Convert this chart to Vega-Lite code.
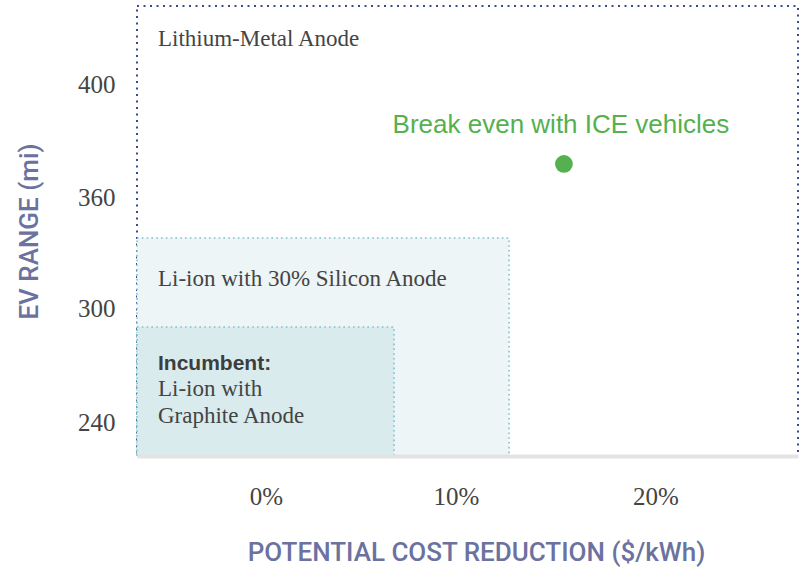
{
  "$schema": "https://vega.github.io/schema/vega-lite/v6.json",
  "width": 661,
  "height": 450,
  "autosize": {"type": "none"},
  "padding": {"left": 137, "top": 6, "right": 6, "bottom": 112},
  "background": "white",
  "config": {"view": {"stroke": null}},
  "datasets": {
    "boxes": [
      {"tier": "lithium", "x0": -6.79, "x1": 27.14, "y0": 222.1, "y1": 427.6},
      {"tier": "silicon", "x0": -6.79, "x1": 12.66, "y0": 222.1, "y1": 337.8},
      {"tier": "graphite", "x0": -6.79, "x1": 6.74, "y0": 222.1, "y1": 290}
    ],
    "serif_labels": [
      {"label": "Lithium-Metal Anode", "x": -6.79, "y": 413.4},
      {"label": "Li-ion with 30% Silicon Anode", "x": -6.79, "y": 312.05},
      {"label": "Li-ion with", "x": -6.79, "y": 253.7},
      {"label": "Graphite Anode", "x": -6.79, "y": 239.3}
    ],
    "bold_labels": [
      {"label": "Incumbent:", "x": -6.79, "y": 267.4}
    ],
    "breakeven": [
      {"label": "Break even with ICE vehicles", "cost_reduction": 15.41, "range": 371.7, "label_x": 15.26, "label_y": 382.5}
    ]
  },
  "encoding": {
    "x": {
      "type": "quantitative",
      "scale": {"domain": [-6.79, 0, 10, 20, 27.14], "range": [0, 129, 319, 518.5, 661], "nice": false, "zero": false},
      "axis": {
        "title": "POTENTIAL COST REDUCTION ($/kWh)",
        "values": [0, 10, 20],
        "labelExpr": "datum.value + '%'",
        "labelFont": "Liberation Serif",
        "labelFontSize": 25,
        "labelColor": "#444444",
        "labelBaseline": "middle",
        "labelPadding": 40,
        "ticks": false,
        "tickSize": 0,
        "grid": false,
        "domain": true,
        "domainColor": "#e3e3e3",
        "domainWidth": 4,
        "zindex": 1,
        "titleFont": "Roboto",
        "titleFontSize": 26,
        "titleFontWeight": 500,
        "titleColor": "#6b72a0",
        "titleBaseline": "middle",
        "titleY": 96,
        "titleX": 339
      }
    },
    "y": {
      "type": "quantitative",
      "scale": {"domain": [222.1, 240, 300, 360, 400, 427.6], "range": [450, 416, 302, 191, 78, 0], "nice": false, "zero": false},
      "axis": {
        "title": "EV RANGE (mi)",
        "values": [240, 300, 360, 400],
        "labelFont": "Liberation Serif",
        "labelFontSize": 25,
        "labelColor": "#444444",
        "labelPadding": 22,
        "ticks": false,
        "tickSize": 0,
        "grid": false,
        "domain": false,
        "titleFont": "Roboto",
        "titleFontSize": 26,
        "titleFontWeight": 500,
        "titleColor": "#6b72a0",
        "titleAngle": -90,
        "titleAlign": "center",
        "titleBaseline": "middle",
        "titleX": -108,
        "titleY": 225
      }
    }
  },
  "layer": [
    {
      "data": {"name": "boxes"},
      "transform": [{"filter": "datum.tier === 'lithium'"}],
      "mark": {"type": "rect", "fill": "transparent", "stroke": "#3b4a8f", "strokeWidth": 2, "strokeDash": [2, 4.5]},
      "encoding": {
        "x": {"field": "x0", "type": "quantitative"},
        "x2": {"field": "x1"},
        "y": {"field": "y0", "type": "quantitative"},
        "y2": {"field": "y1"}
      }
    },
    {
      "data": {"name": "boxes"},
      "transform": [{"filter": "datum.tier === 'silicon'"}],
      "mark": {"type": "rect", "fill": "#edf5f6", "stroke": "#7dc2cc", "strokeWidth": 1.6, "strokeDash": [1.6, 3.2]},
      "encoding": {
        "x": {"field": "x0", "type": "quantitative"},
        "x2": {"field": "x1"},
        "y": {"field": "y0", "type": "quantitative"},
        "y2": {"field": "y1"}
      }
    },
    {
      "data": {"name": "boxes"},
      "transform": [{"filter": "datum.tier === 'graphite'"}],
      "mark": {"type": "rect", "fill": "#d9ebed", "stroke": "#7dc2cc", "strokeWidth": 1.6, "strokeDash": [1.6, 3.2]},
      "encoding": {
        "x": {"field": "x0", "type": "quantitative"},
        "x2": {"field": "x1"},
        "y": {"field": "y0", "type": "quantitative"},
        "y2": {"field": "y1"}
      }
    },
    {
      "data": {"name": "serif_labels"},
      "mark": {"type": "text", "align": "left", "baseline": "alphabetic", "dx": 21, "font": "Liberation Serif", "fontSize": 23, "color": "#444444"},
      "encoding": {
        "x": {"field": "x", "type": "quantitative"},
        "y": {"field": "y", "type": "quantitative"},
        "text": {"field": "label"}
      }
    },
    {
      "data": {"name": "bold_labels"},
      "mark": {"type": "text", "align": "left", "baseline": "alphabetic", "dx": 21, "font": "Liberation Sans", "fontSize": 21, "fontWeight": "bold", "color": "#3d3d3d"},
      "encoding": {
        "x": {"field": "x", "type": "quantitative"},
        "y": {"field": "y", "type": "quantitative"},
        "text": {"field": "label"}
      }
    },
    {
      "data": {"name": "breakeven"},
      "mark": {"type": "text", "align": "center", "baseline": "alphabetic", "font": "Liberation Sans", "fontSize": 26, "color": "#55b04f"},
      "encoding": {
        "x": {"field": "label_x", "type": "quantitative"},
        "y": {"field": "label_y", "type": "quantitative"},
        "text": {"field": "label"}
      }
    },
    {
      "data": {"name": "breakeven"},
      "mark": {"type": "point", "shape": "circle", "filled": true, "size": 314, "color": "#55b04f", "opacity": 1},
      "encoding": {
        "x": {"field": "cost_reduction", "type": "quantitative"},
        "y": {"field": "range", "type": "quantitative"}
      }
    }
  ]
}
